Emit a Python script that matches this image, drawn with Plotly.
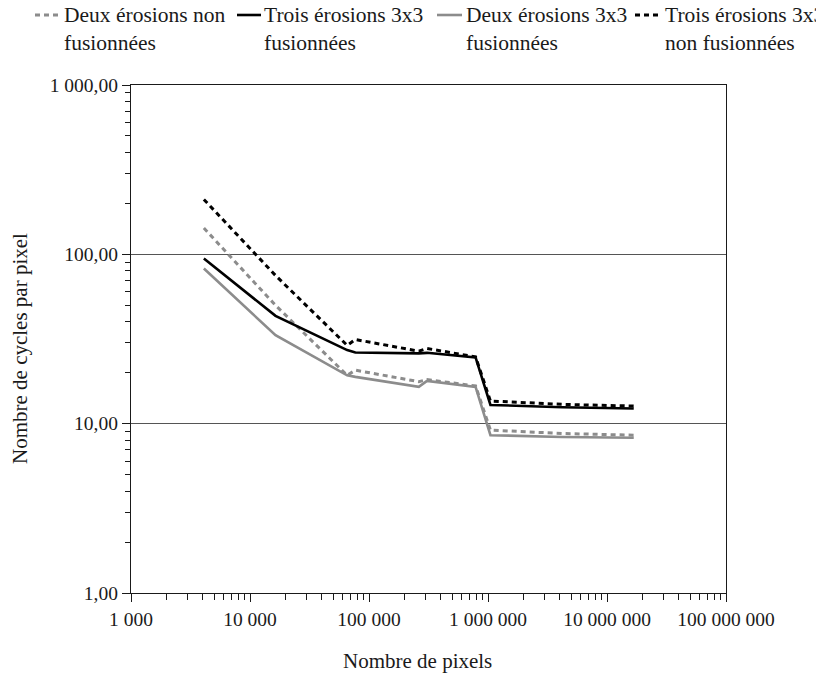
import plotly.graph_objects as go

# Image sizes (number of pixels) and cycles per pixel for each variant
pixels = [4096, 16384, 65536, 76800, 262144, 307200, 786432, 1048576, 4194304, 16777216]
deux_non_fusionnees = [143, 50, 19.3, 20.7, 17.7, 18.2, 16.7, 9.16, 8.75, 8.55]
trois_fusionnees = [94.4, 43.3, 27.2, 26.3, 26.0, 26.2, 24.6, 12.9, 12.5, 12.3]
deux_fusionnees = [82.4, 33.3, 19.3, 18.9, 16.5, 17.9, 16.5, 8.55, 8.35, 8.25]
trois_non_fusionnees = [211, 75, 29.0, 31.4, 26.8, 27.8, 24.8, 13.6, 13.0, 12.7]

series_names = [
    "Deux érosions non<br>fusionnées",
    "Trois érosions 3x3<br>fusionnées",
    "Deux érosions 3x3<br>fusionnées",
    "Trois érosions 3x3<br>non fusionnées",
]

x_tick_vals = [1e3, 1e4, 1e5, 1e6, 1e7, 1e8]
x_tick_text = ["1 000", "10 000", "100 000", "1 000 000", "10 000 000", "100 000 000"]
y_tick_vals = [1, 10, 100, 1000]
y_tick_text = ["1,00", "10,00", "100,00", "1 000,00"]

x_title = "Nombre de pixels"
y_title = "Nombre de cycles par pixel"

W, H = 816, 675
L, R, T, B = 131, 90, 85, 82
FONT = "Liberation Serif"
GRAY = "#8c8c8c"
INK = "#1a1a1a"

styles = [
    dict(color=GRAY, width=3, dash="5px,4px"),
    dict(color="black", width=2.6, dash="solid"),
    dict(color=GRAY, width=2.6, dash="solid"),
    dict(color="black", width=3, dash="5px,4px"),
]
values = [deux_non_fusionnees, trois_fusionnees, deux_fusionnees, trois_non_fusionnees]

fig = go.Figure()
for name, vals, st in zip(series_names, values, styles):
    fig.add_trace(go.Scatter(x=pixels, y=vals, mode="lines", name=name,
                             line=st, showlegend=False))


def px_x(x):
    return (x - L) / (W - L - R)


def px_y(y):
    return (H - B - y) / (H - T - B)


# Legend drawn across the top: sample line + two-line label
legend_x = [(35, 60, 62), (237, 261, 262), (437, 462, 464), (635, 660, 663)]
legend_y = 15
for (x0, x1, xt), name, st in zip(legend_x, series_names, styles):
    fig.add_shape(type="line", xref="paper", yref="paper",
                  x0=px_x(x0), x1=px_x(x1), y0=px_y(legend_y), y1=px_y(legend_y),
                  line=st)
    fig.add_annotation(xref="paper", yref="paper", x=px_x(xt), y=px_y(29),
                       xanchor="left", yanchor="middle", align="left",
                       showarrow=False, text=name,
                       font=dict(family=FONT, size=21.5, color=INK))

# Axis titles
fig.add_annotation(xref="paper", yref="paper", x=px_x(417), y=px_y(661),
                   xanchor="center", yanchor="middle", showarrow=False,
                   text=x_title, font=dict(family=FONT, size=21, color=INK))
fig.add_annotation(xref="paper", yref="paper", x=px_x(20), y=px_y(349),
                   xanchor="center", yanchor="middle", showarrow=False,
                   textangle=-90, text=y_title,
                   font=dict(family=FONT, size=21, color=INK))

minor_x = [m * 10 ** e for e in range(3, 8) for m in range(2, 10)]
minor_y = [m * 10 ** e for e in range(0, 3) for m in range(2, 10)]

axis_common = dict(type="log", showline=True, linecolor=INK, linewidth=1.3,
                   mirror=True, zeroline=False, ticks="outside", ticklen=8,
                   tickwidth=1.3, tickcolor=INK,
                   tickfont=dict(family=FONT, size=19.5, color=INK))

fig.update_layout(
    width=W, height=H,
    margin=dict(l=L, r=R, t=T, b=B),
    paper_bgcolor="white", plot_bgcolor="white",
    font=dict(family=FONT, size=19, color=INK),
    xaxis=dict(**axis_common, range=[3, 8], tickmode="array",
               tickvals=x_tick_vals, ticktext=x_tick_text, showgrid=False,
               minor=dict(tickmode="array", tickvals=minor_x, ticks="outside",
                          ticklen=6, tickwidth=1.2, tickcolor=INK, showgrid=False)),
    yaxis=dict(**axis_common, range=[0, 3], tickmode="array",
               tickvals=y_tick_vals, ticktext=y_tick_text,
               showgrid=True, gridcolor="#555555", gridwidth=1.2,
               minor=dict(tickmode="array", tickvals=minor_y, ticks="outside",
                          ticklen=5, tickwidth=1.2, tickcolor=INK, showgrid=False)),
    # overlay axes carrying the inner half of the major ticks
    xaxis2=dict(type="log", range=[3, 8], overlaying="x", anchor="y", side="bottom",
                tickmode="array", tickvals=x_tick_vals, ticks="inside", ticklen=8,
                tickwidth=1.3, tickcolor=INK, showticklabels=False,
                showgrid=False, showline=False, zeroline=False),
    yaxis2=dict(type="log", range=[0, 3], overlaying="y", anchor="x", side="left",
                tickmode="array", tickvals=y_tick_vals, ticks="inside", ticklen=3,
                tickwidth=1.3, tickcolor=INK, showticklabels=False,
                showgrid=False, showline=False, zeroline=False),
)

fig.write_html("out.html")
